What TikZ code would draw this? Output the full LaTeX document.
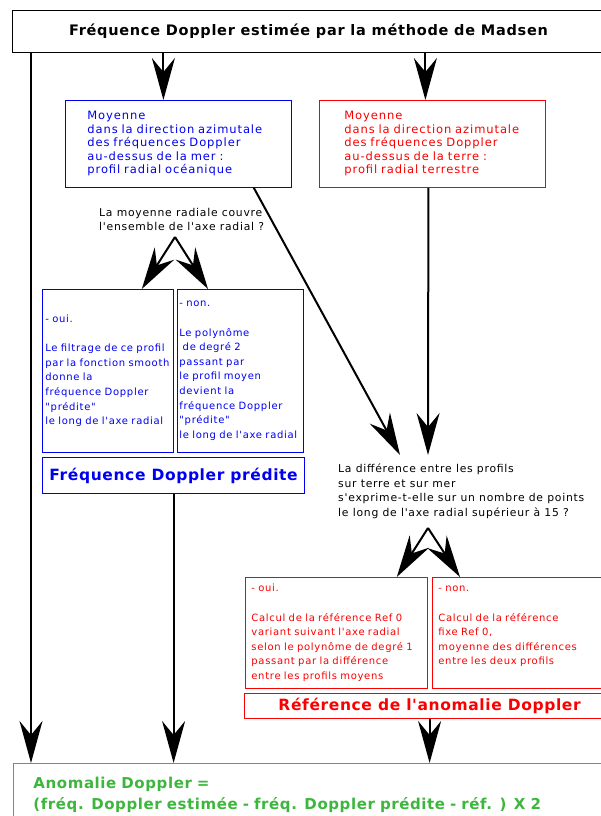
\documentclass[tikz,border=0pt]{standalone}
\usepackage{fontspec}
\setmainfont{DejaVu Sans}[Ligatures=TeXOff]
\usetikzlibrary{arrows.meta,calc}
\definecolor{bleu}{RGB}{0,0,240}
\definecolor{rouge}{RGB}{250,0,0}
\definecolor{vert}{RGB}{60,182,60}

\newcommand{\moyen}{\fontsize{11.5}{13.5}\selectfont\addfontfeature{LetterSpace=8}}
\newcommand{\petit}{\fontsize{10}{14.6}\selectfont\addfontfeature{LetterSpace=7}}
\newcommand{\question}{\fontsize{10.8}{14.5}\selectfont\addfontfeature{LetterSpace=7}}
\newcommand{\grand}{\fontsize{15.5}{17}\selectfont\bfseries\addfontfeature{LetterSpace=4}}

\begin{document}
\begin{tikzpicture}[x=1pt, y=-1pt,
  boite/.style={draw, rectangle, line width=0.8pt, anchor=north west, align=left, inner sep=0pt},
  fl/.style={-{Stealth[length=42pt, width=23pt, inset=14pt]}, line width=2pt}
  ]
  \useasboundingbox (0,0) rectangle (601,816);

  \node[boite, line width=1pt, minimum width=592pt, minimum height=42pt, align=center,
        font=\fontsize{14.5}{16}\selectfont\bfseries\addfontfeature{LetterSpace=5}]
    (titre) at (12,10) {Fréquence Doppler estimée par la méthode de Madsen};

  % profils moyens
  \node[boite, draw=bleu, text=bleu, inner xsep=22pt, text width=182pt, minimum height=87pt, font=\moyen]
    (mer) at (65,100) {Moyenne\\dans la direction azimutale\\des fréquences Doppler\\au-dessus de la mer :\\profil radial océanique};
  \node[boite, draw=rouge, text=rouge, inner xsep=25pt, text width=176pt, minimum height=87pt, font=\moyen]
    (terre) at (319,100) {Moyenne\\dans la direction azimutale\\des fréquences Doppler\\au-dessus de la terre :\\profil radial terrestre};

  % premier test
  \node[anchor=north west, align=left, inner sep=0pt, font=\question]
    (q1) at (99,208) {La moyenne radiale couvre\\l'ensemble de l'axe radial ?};
  \node[boite, draw=bleu, text=bleu, inner xsep=3pt, text width=125pt, minimum height=163pt, font=\petit]
    (oui1) at (42,289) {- oui.\\[14.6pt]Le filtrage de ce profil\\par la fonction smooth\\donne la\\fréquence Doppler\\"prédite"\\le long de l'axe radial};
  \node[boite, draw=bleu, text=bleu, inner xsep=2pt, text width=122pt, minimum height=163pt, font=\petit]
    (non1) at (177,289) {- non.\\[14.6pt]Le polynôme\\\ de degré 2\\passant par\\le profil moyen\\devient la\\fréquence Doppler\\"prédite"\\le long de l'axe radial};
  \node[boite, draw=bleu, text=bleu, line width=1.2pt, minimum width=262pt, minimum height=36pt, align=center, font=\grand]
    (predite) at (42,457) {Fréquence Doppler prédite};

  % second test
  \node[anchor=north west, align=left, inner sep=0pt, font=\question]
    (q2) at (338,464) {La différence entre les profils\\sur terre et sur mer\\s'exprime-t-elle sur un nombre de points\\le long de l'axe radial supérieur à 15 ?};
  \node[boite, draw=rouge, text=rouge, inner xsep=6pt, text width=170pt, minimum height=111pt, font=\petit]
    (oui2) at (245,577) {- oui.\\[14.6pt]Calcul de la référence Ref 0\\variant suivant l'axe radial\\selon le polynôme de degré 1\\passant par la différence\\entre les profils moyens};
  \node[boite, draw=rouge, text=rouge, inner xsep=6pt, text width=170pt, minimum height=111pt, font=\petit]
    (non2) at (432,577) {- non.\\[14.6pt]Calcul de la référence\\fixe Ref 0,\\moyenne des différences\\entre les deux profils\\\mbox{}};
  \node[boite, draw=rouge, text=rouge, line width=1.2pt, minimum width=370pt, minimum height=25pt, align=center, font=\grand]
    (ref) at (244,693) {Référence de l'anomalie Doppler};

  \node[boite, draw=vert, text=vert, inner xsep=20pt, text width=560pt, minimum height=62pt,
        font=\fontsize{15}{21}\selectfont\bfseries\addfontfeature{LetterSpace=4}]
    (anomalie) at (13,763) {Anomalie Doppler =\\(fréq. Doppler estimée - fréq. Doppler prédite - réf. ) X 2};

  % fourches sous les questions
  \coordinate (f1) at (175,237);
  \coordinate (f2) at (428,528);
  \coordinate (d1) at (400,455);
  \coordinate (d2) at (428,455);

  \draw[fl] ([xshift=-15pt]mer.north |- titre.south) -- ([xshift=-15pt]mer.north);
  \draw[fl] ([xshift=-7pt]terre.north |- titre.south) -- ([xshift=-7pt]terre.north);
  \draw[fl] ([xshift=19pt]titre.south west) -- ([xshift=19pt]titre.south west |- anomalie.north);

  \draw[fl] (f1) -- ([xshift=-32pt]oui1.north east);
  \draw[fl] (f1) -- ([xshift=31pt]non1.north west);
  \draw[fl] ([xshift=-38pt]mer.south east) -- (d1);
  \draw[fl] ([xshift=-4pt]terre.south) -- (d2);
  \draw[fl] (f2) -- ([xshift=-31pt]oui2.north east);
  \draw[fl] (f2) -- ([xshift=28pt]non2.north west);

  \draw[fl] (predite.south) -- (predite.south |- anomalie.north);
  \draw[fl] (ref.south) -- (ref.south |- anomalie.north);
\end{tikzpicture}
\end{document}
